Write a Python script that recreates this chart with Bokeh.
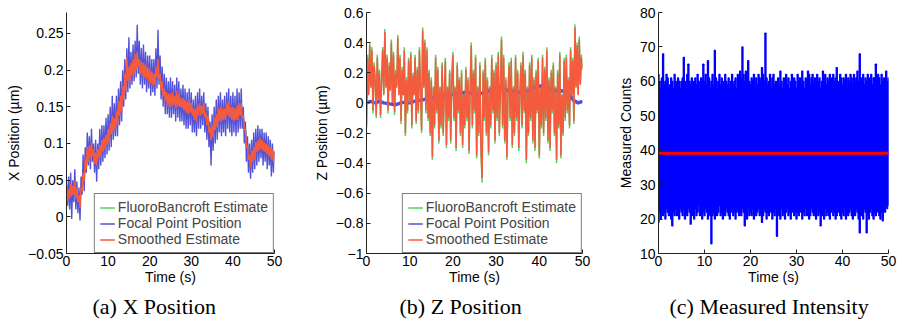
import numpy as np
from bokeh.plotting import figure
from bokeh.layouts import row
from bokeh.models import Range1d, FixedTicker, Title, Legend, LegendItem
from bokeh.embed import file_html
from bokeh.resources import INLINE

# ---------------- data ----------------
time_fine = np.arange(201) * 0.25      # 0 .. 50 s, 0.25 s step
time_half = np.arange(101) * 0.5       # 0 .. 50 s, 0.5 s step
time_sec = np.arange(51) * 1.0         # 0 .. 50 s, 1 s step

# (a) X position
x_focal = [
    0.045, 0.015, 0.055, 0.010, 0.060, -0.003, 0.050, 0.020, 0.065, 0.010, 0.048, 0.005,
    0.040, -0.005, 0.055, 0.030, 0.085, 0.035, 0.095, 0.060, 0.115, 0.070, 0.110, 0.065,
    0.120, 0.075, 0.100, 0.060, 0.105, 0.048, 0.100, 0.065, 0.120, 0.070, 0.125, 0.075,
    0.125, 0.080, 0.135, 0.085, 0.140, 0.090, 0.150, 0.095, 0.165, 0.105, 0.155, 0.110,
    0.165, 0.110, 0.175, 0.125, 0.185, 0.130, 0.200, 0.150, 0.215, 0.160, 0.230, 0.170,
    0.245, 0.175, 0.225, 0.180, 0.235, 0.185, 0.240, 0.190, 0.262, 0.195, 0.240, 0.180,
    0.230, 0.175, 0.235, 0.180, 0.225, 0.170, 0.220, 0.175, 0.220, 0.165, 0.215, 0.170,
    0.215, 0.165, 0.230, 0.175, 0.255, 0.180, 0.220, 0.160, 0.205, 0.150, 0.195, 0.140,
    0.190, 0.140, 0.185, 0.135, 0.190, 0.135, 0.185, 0.140, 0.180, 0.130, 0.190, 0.135,
    0.185, 0.130, 0.175, 0.130, 0.180, 0.125, 0.175, 0.120, 0.170, 0.120, 0.175, 0.125,
    0.170, 0.115, 0.160, 0.115, 0.165, 0.110, 0.170, 0.120, 0.175, 0.120, 0.165, 0.125,
    0.170, 0.115, 0.155, 0.105, 0.150, 0.095, 0.130, 0.070, 0.140, 0.090, 0.150, 0.100,
    0.160, 0.105, 0.165, 0.115, 0.170, 0.110, 0.160, 0.115, 0.165, 0.110, 0.170, 0.120,
    0.175, 0.115, 0.165, 0.110, 0.170, 0.115, 0.165, 0.110, 0.175, 0.115, 0.170, 0.120,
    0.175, 0.120, 0.150, 0.100, 0.130, 0.075, 0.110, 0.060, 0.100, 0.052, 0.105, 0.060,
    0.115, 0.065, 0.120, 0.070, 0.125, 0.075, 0.120, 0.080, 0.120, 0.070, 0.115, 0.075,
    0.115, 0.065, 0.110, 0.070, 0.105, 0.055, 0.100, 0.060, 0.090,
]
x_smoothed = [
    0.040, 0.022, 0.038, 0.025, 0.045, 0.028, 0.042, 0.030, 0.048, 0.025, 0.040, 0.020,
    0.030, 0.012, 0.040, 0.035, 0.060, 0.048, 0.078, 0.065, 0.095, 0.075, 0.098, 0.080,
    0.100, 0.082, 0.092, 0.072, 0.088, 0.070, 0.092, 0.080, 0.098, 0.082, 0.105, 0.088,
    0.108, 0.092, 0.112, 0.098, 0.120, 0.100, 0.128, 0.112, 0.138, 0.115, 0.135, 0.120,
    0.145, 0.125, 0.158, 0.138, 0.165, 0.142, 0.178, 0.160, 0.195, 0.172, 0.218, 0.185,
    0.205, 0.185, 0.210, 0.192, 0.215, 0.195, 0.222, 0.200, 0.225, 0.205, 0.215, 0.195,
    0.212, 0.192, 0.210, 0.190, 0.208, 0.188, 0.205, 0.185, 0.202, 0.182, 0.198, 0.180,
    0.195, 0.180, 0.205, 0.190, 0.215, 0.188, 0.195, 0.172, 0.185, 0.165, 0.175, 0.158,
    0.170, 0.152, 0.168, 0.150, 0.168, 0.150, 0.170, 0.152, 0.165, 0.148, 0.172, 0.150,
    0.168, 0.150, 0.162, 0.148, 0.162, 0.145, 0.160, 0.142, 0.158, 0.140, 0.160, 0.142,
    0.155, 0.138, 0.148, 0.132, 0.148, 0.130, 0.152, 0.138, 0.155, 0.138, 0.152, 0.140,
    0.155, 0.135, 0.142, 0.125, 0.138, 0.115, 0.122, 0.105, 0.125, 0.108, 0.135, 0.118,
    0.140, 0.122, 0.148, 0.130, 0.150, 0.130, 0.148, 0.132, 0.148, 0.132, 0.155, 0.138,
    0.158, 0.135, 0.150, 0.132, 0.150, 0.130, 0.148, 0.132, 0.152, 0.132, 0.155, 0.138,
    0.155, 0.135, 0.138, 0.118, 0.120, 0.095, 0.098, 0.078, 0.085, 0.068, 0.090, 0.075,
    0.095, 0.078, 0.102, 0.088, 0.105, 0.090, 0.108, 0.092, 0.105, 0.090, 0.102, 0.088,
    0.100, 0.085, 0.098, 0.082, 0.095, 0.078, 0.092, 0.075, 0.088,
]
x_fluoro = [
    0.035, 0.030, 0.040, 0.033, 0.045, 0.035, 0.028, 0.035, 0.055, 0.072,
    0.088, 0.090, 0.095, 0.085, 0.088, 0.085, 0.095, 0.090, 0.102, 0.108,
    0.112, 0.120, 0.128, 0.130, 0.138, 0.145, 0.150, 0.165, 0.182, 0.200,
    0.198, 0.200, 0.208, 0.212, 0.218, 0.210, 0.205, 0.200, 0.202, 0.196,
    0.195, 0.190, 0.188, 0.195, 0.205, 0.190, 0.178, 0.168, 0.165, 0.160,
    0.162, 0.160, 0.158, 0.162, 0.160, 0.158, 0.156, 0.152, 0.152, 0.150,
    0.148, 0.145, 0.142, 0.140, 0.146, 0.148, 0.150, 0.145, 0.135, 0.125,
    0.112, 0.122, 0.130, 0.135, 0.140, 0.140, 0.140, 0.142, 0.145, 0.142,
    0.140, 0.140, 0.140, 0.143, 0.145, 0.135, 0.118, 0.098, 0.080, 0.078,
    0.082, 0.088, 0.095, 0.098, 0.100, 0.097, 0.095, 0.092, 0.090, 0.087,
    0.085,
]

# (b) Z position
z_smoothed = [
    -0.15, 0.30, 0.05, 0.38, 0.10, 0.35, -0.05, 0.25, 0.15, -0.08, 0.30, 0.02,
    0.20, -0.08, 0.15, 0.35, 0.05, 0.47, 0.10, 0.30, -0.05, 0.25, 0.08, 0.40,
    0.00, 0.32, -0.06, 0.20, 0.10, 0.43, 0.05, 0.30, -0.12, 0.22, 0.05, 0.35,
    -0.20, 0.15, -0.05, 0.28, 0.00, 0.32, -0.15, 0.18, 0.05, 0.30, -0.12, 0.22,
    -0.05, 0.35, 0.08, -0.18, 0.48, 0.10, 0.40, -0.05, 0.35, -0.10, 0.20, -0.20,
    0.15, -0.36, 0.10, -0.15, 0.30, -0.05, 0.22, -0.25, 0.10, -0.15, 0.25, -0.20,
    0.05, 0.28, -0.28, 0.10, -0.10, 0.20, -0.25, 0.15, 0.32, -0.10, 0.10, -0.30,
    0.25, -0.05, 0.15, -0.20, 0.20, -0.28, 0.05, -0.15, 0.22, -0.10, 0.15, -0.32,
    0.10, 0.38, -0.15, 0.20, -0.05, 0.30, -0.35, 0.10, -0.20, 0.25, -0.30, -0.50,
    0.20, -0.10, 0.28, -0.20, 0.15, -0.33, 0.10, -0.15, 0.30, -0.05, 0.20, -0.25,
    0.25, -0.10, 0.32, -0.20, 0.10, 0.42, -0.15, 0.30, -0.25, 0.15, -0.36, 0.05,
    0.25, -0.10, 0.28, -0.28, 0.10, -0.20, 0.30, -0.10, 0.20, -0.30, 0.05, 0.25,
    -0.15, 0.32, -0.05, 0.20, -0.38, 0.10, -0.20, 0.25, -0.10, 0.30, -0.25, 0.15,
    -0.30, 0.20, -0.05, 0.28, -0.35, 0.10, -0.15, 0.30, -0.20, 0.22, -0.10, 0.35,
    -0.25, 0.15, -0.30, 0.20, -0.05, 0.25, -0.20, 0.10, -0.38, 0.20, -0.15, 0.32,
    -0.35, 0.05, -0.20, 0.28, -0.10, 0.30, -0.05, 0.15, -0.15, 0.35, 0.05, 0.28,
    -0.12, 0.50, 0.10, 0.38, 0.05, 0.42, 0.12, 0.30, 0.22,
]
z_fluoro = [
    -0.17, 0.32, 0.06, 0.40, 0.11, 0.37, -0.07, 0.27, 0.16, -0.10, 0.32, 0.02,
    0.22, -0.10, 0.16, 0.37, 0.06, 0.49, 0.11, 0.32, -0.07, 0.27, 0.09, 0.42,
    0.00, 0.34, -0.08, 0.22, 0.11, 0.45, 0.06, 0.32, -0.14, 0.24, 0.06, 0.37,
    -0.22, 0.17, -0.07, 0.30, 0.00, 0.34, -0.17, 0.20, 0.06, 0.32, -0.14, 0.24,
    -0.07, 0.37, 0.09, -0.20, 0.50, 0.11, 0.42, -0.07, 0.37, -0.12, 0.22, -0.22,
    0.17, -0.38, 0.11, -0.17, 0.32, -0.07, 0.24, -0.27, 0.11, -0.17, 0.27, -0.22,
    0.06, 0.30, -0.30, 0.11, -0.12, 0.22, -0.27, 0.17, 0.34, -0.12, 0.11, -0.32,
    0.27, -0.07, 0.17, -0.22, 0.22, -0.30, 0.06, -0.17, 0.24, -0.12, 0.17, -0.34,
    0.11, 0.40, -0.17, 0.22, -0.07, 0.32, -0.37, 0.11, -0.22, 0.27, -0.32, -0.53,
    0.22, -0.12, 0.30, -0.22, 0.17, -0.35, 0.11, -0.17, 0.32, -0.07, 0.22, -0.27,
    0.27, -0.12, 0.34, -0.22, 0.11, 0.44, -0.17, 0.32, -0.27, 0.17, -0.38, 0.06,
    0.27, -0.12, 0.30, -0.30, 0.11, -0.22, 0.32, -0.12, 0.22, -0.32, 0.06, 0.27,
    -0.17, 0.34, -0.07, 0.22, -0.40, 0.11, -0.22, 0.27, -0.12, 0.32, -0.27, 0.17,
    -0.32, 0.22, -0.07, 0.30, -0.37, 0.11, -0.17, 0.32, -0.22, 0.24, -0.12, 0.37,
    -0.27, 0.17, -0.32, 0.22, -0.07, 0.27, -0.22, 0.11, -0.40, 0.22, -0.17, 0.34,
    -0.37, 0.06, -0.22, 0.30, -0.12, 0.32, -0.07, 0.17, -0.17, 0.37, 0.06, 0.30,
    -0.14, 0.52, 0.11, 0.40, 0.06, 0.44, 0.13, 0.32, 0.24,
]
z_focal = [
    0.00, 0.01, 0.00, 0.01, 0.00, -0.005, -0.01, -0.01, 0.00, 0.005,
    0.00, 0.01, 0.015, 0.02, 0.027, 0.035, 0.04, 0.045, 0.05, 0.05,
    0.055, 0.06, 0.065, 0.07, 0.065, 0.06, 0.06, 0.065, 0.075, 0.09,
    0.10, 0.105, 0.09, 0.08, 0.075, 0.07, 0.07, 0.075, 0.09, 0.105,
    0.11, 0.115, 0.10, 0.085, 0.08, 0.08, 0.075, 0.05, 0.015, 0.0,
    0.01,
]

# (c) Measured intensity: envelope of the dense count trace (0.25 s bins), and its mean
counts_high = [
    62, 60, 58, 61, 68, 59, 60, 62,  61, 58, 59, 61, 60, 58, 62, 60,
    59, 61, 60, 58, 60, 61, 67, 60,  58, 62, 65, 60, 59, 61, 58, 60,
    61, 59, 62, 60, 58, 61, 60, 65,  60, 62, 59, 66, 61, 58, 60, 62,
    59, 69, 61, 58, 60, 62, 59, 61,  60, 58, 62, 60, 59, 61, 58, 60,
    62, 59, 60, 61, 58, 62, 60, 63,  61, 70, 62, 60, 63, 61, 66, 60,
    59, 61, 60, 62, 58, 61, 59, 62,  61, 60, 64, 62, 60, 74, 61, 59,
    60, 62, 58, 61, 62, 59, 60, 58,  61, 59, 63, 60, 58, 61, 60, 62,
    59, 61, 58, 60, 62, 59, 61, 60,  58, 62, 60, 61, 59, 63, 60, 58,
    61, 60, 63, 62, 59, 61, 62, 60,  61, 59, 62, 60, 61, 58, 60, 63,
    60, 62, 59, 61, 60, 62, 58, 61,  62, 60, 61, 64, 60, 59, 62, 61,
    59, 61, 60, 62, 58, 61, 60, 62,  61, 59, 62, 60, 61, 63, 60, 68,
    61, 60, 62, 59, 61, 60, 62, 61,  60, 62, 59, 61, 61, 65, 60, 62,
    61, 59, 62, 60, 61, 60, 63, 60,  61,
]
counts_low = [
    19, 22, 20, 23, 21, 22, 20, 23,  22, 21, 23, 20, 18, 22, 21, 23,
    21, 22, 20, 23, 22, 21, 23, 20,  22, 21, 23, 22, 18.5, 21, 22, 20,
    23, 21, 22, 24, 21, 22, 20, 22,  21, 23, 22, 20, 22, 21, 12.8, 21,
    22, 20, 23, 21, 22, 24, 21, 22,  20, 22, 21, 23, 22, 21, 20, 22,
    23, 21, 22, 20, 22, 23, 21, 22,  21, 23, 22, 18, 22, 20, 23, 21,
    22, 21, 23, 20, 22, 21, 22, 23,  21, 22, 19, 21, 23, 22, 20, 22,
    21, 23, 22, 20, 22, 21, 23, 15,  22, 21, 20, 23, 21, 22, 20, 22,
    23, 21, 22, 20, 22, 23, 21, 22,  20, 22, 21, 23, 22, 20, 22, 21,
    23, 21, 22, 20, 21, 23, 22, 21,  22, 20, 23, 21, 22, 18, 21, 22,
    20, 23, 21, 22, 21, 20, 22, 23,  21, 22, 20, 21, 23, 22, 21, 20,
    22, 21, 23, 20, 22, 21, 22, 23,  21, 20, 22, 21, 23, 22, 20, 16,
    21, 22, 20, 23, 22, 16, 21, 20,  22, 23, 21, 20, 22, 21, 23, 22,
    21, 20, 22, 19.5, 23, 22, 24, 23,  24,
]
counts_mean = 39.1

x_ticks = [0, 10, 20, 30, 40, 50]
a_ticks = [-0.05, 0, 0.05, 0.1, 0.15, 0.2, 0.25]
a_tick_labels = ["\u22120.05", "0", "0.05", "0.1", "0.15", "0.2", "0.25"]
b_ticks = [-1, -0.8, -0.6, -0.4, -0.2, 0, 0.2, 0.4, 0.6]
b_tick_labels = ["\u22121", "\u22120.8", "\u22120.6", "\u22120.4", "\u22120.2", "0", "0.2", "0.4", "0.6"]
c_ticks = [10, 20, 30, 40, 50, 60, 70, 80]

legend_labels = ["FluoroBancroft Estimate", "Focal Point Position", "Smoothed Estimate"]

GREEN = "#52d160"
BLUE = "#5252d8"
RED = "#f45a3e"
SANS = "Liberation Sans"
SERIF = "Liberation Serif"


def make_fig(y_lo, y_hi, left, right, ylabel, caption, cap_offset, yticks, ylabels=None):
    p = figure(width=299, height=326, x_range=Range1d(0, 50), y_range=Range1d(y_lo, y_hi),
               output_backend="svg", toolbar_location=None,
               min_border_left=left, min_border_right=right,
               min_border_top=12, min_border_bottom=73)
    p.grid.visible = False
    p.outline_line_color = None
    p.background_fill_color = "white"
    p.border_fill_color = "white"
    p.xaxis.ticker = FixedTicker(ticks=x_ticks)
    p.yaxis.ticker = FixedTicker(ticks=yticks)
    if ylabels is not None:
        p.yaxis.major_label_overrides = {t: l for t, l in zip(yticks, ylabels)}
    for ax in (p.xaxis[0], p.yaxis[0]):
        ax.axis_line_color = "#222222"
        ax.axis_line_width = 1
        ax.major_tick_in = 4
        ax.major_tick_out = 0
        ax.major_tick_line_color = "#222222"
        ax.minor_tick_line_color = None
        ax.major_label_text_font = SANS
        ax.major_label_text_font_size = "14px"
        ax.major_label_text_color = "black"
        ax.axis_label_text_font = SANS
        ax.axis_label_text_font_size = "14px"
        ax.axis_label_text_font_style = "normal"
        ax.axis_label_text_color = "black"
    p.xaxis.axis_label = "Time (s)"
    p.xaxis.major_label_standoff = 2
    p.xaxis.axis_label_standoff = 0
    p.yaxis.axis_label = ylabel
    p.yaxis.major_label_standoff = 3
    p.yaxis.axis_label_standoff = 3
    p.add_layout(Title(text=caption, text_font=SERIF, text_font_size="22px",
                       text_font_style="normal", text_color="black",
                       align="left", offset=cap_offset, standoff=8), "below")
    return p


def add_legend(p, rends):
    leg = Legend(items=[LegendItem(label=l, renderers=[r]) for l, r in zip(legend_labels, rends)],
                 location="bottom_right", margin=0, padding=5, spacing=0,
                 label_height=15, glyph_height=15, glyph_width=15, label_standoff=3,
                 label_text_font=SANS, label_text_font_size="14px",
                 border_line_color="black", border_line_width=1,
                 background_fill_color="white", background_fill_alpha=1.0)
    p.add_layout(leg)


# ---- (a)
pa = make_fig(-0.05, 0.2786, 66, 25, "X Position (\u00b5m)", "(a)  X Position", 26,
              a_ticks, a_tick_labels)
ga = pa.line(time_half, x_fluoro, line_color=GREEN, line_width=1.5)
ba = pa.line(time_fine, x_focal, line_color=BLUE, line_width=1.4)
ra = pa.line(time_fine, x_smoothed, line_color=RED, line_width=1.5)
add_legend(pa, [ga, ba, ra])

# ---- (b)
pb = make_fig(-1, 0.6, 67, 16, "Z Position (\u00b5m)", "(b)  Z Position", 33,
              b_ticks, b_tick_labels)
gb = pb.line(time_fine, z_fluoro, line_color=GREEN, line_width=1.5)
pb.line(time_sec, z_focal, line_color=BLUE, line_width=3.5)
# thin copy of the same trace, used as the legend sample
bb_key = pb.line(time_sec, z_focal, line_color=BLUE, line_width=1.5)
rb = pb.line(time_fine, z_smoothed, line_color=RED, line_width=1.5)
add_legend(pb, [gb, bb_key, rb])

# ---- (c)
pc = make_fig(10, 80, 60, 9, "Measured Counts", "(c)  Measured Intensity", 11, c_ticks)
pc.vbar(x=time_fine, width=0.25, bottom=counts_low, top=counts_high,
        fill_color="#0000ff", line_color="#0000ff", line_width=1.2)
pc.line([0, 50], [counts_mean, counts_mean], line_color="#ff0000", line_width=3)

layout = row(pa, pb, pc, spacing=0)
open("out.html", "w").write(file_html(layout, INLINE))
